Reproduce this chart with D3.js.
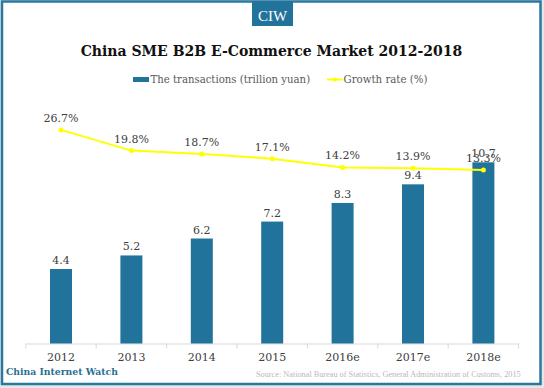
<!DOCTYPE html>
<html>
<head>
<meta charset="utf-8">
<script src="https://cdn.jsdelivr.net/npm/d3@7"></script>
<style>
  html, body { margin: 0; padding: 0; background: #e6e6e6; }
  svg { display: block; }
</style>
</head>
<body>
<div id="chart"></div>
<script>
// data
const years = ['2012', '2013', '2014', '2015', '2016e', '2017e', '2018e']
const transactions = [4.4, 5.2, 6.2, 7.2, 8.3, 9.4, 10.7]
const growth = [26.7, 19.8, 18.7, 17.1, 14.2, 13.9, 13.3]

const title = 'China SME B2B E-Commerce Market 2012-2018'
const legendBar = 'The transactions (trillion yuan)'
const legendLine = 'Growth rate (%)'
const source = 'Source: National Bureau of Statistics, General Administration of Customs, 2015'

const W = 544
const H = 388
const BLUE = '#22739c'
const YELLOW = '#ffff00'
const SERIF = '"DejaVu Serif", "Liberation Serif", serif'

// scale a text's font size so it takes the wanted width
function fitWidth (sel, width) {
  let size = parseFloat(sel.style('font-size'))
  let len = sel.node().getComputedTextLength()
  sel.style('font-size', (size * width / len).toFixed(2) + 'px')
  return sel
}

const svg = d3.select('#chart').append('svg')
  .attr('width', W)
  .attr('height', H)

// frame
svg.append('rect')
  .attr('x', 2).attr('y', 1.5)
  .attr('width', 538.5).attr('height', 382.5)
  .attr('fill', '#fff')
  .attr('stroke', '#2a78a0')
  .attr('stroke-width', 2.5)

// CIW badge
svg.append('rect')
  .attr('x', 252).attr('y', 1)
  .attr('width', 41).attr('height', 25)
  .attr('fill', BLUE)
svg.append('text')
  .attr('x', 272.5).attr('y', 20.5)
  .attr('text-anchor', 'middle')
  .style('font-family', '"Liberation Serif", serif')
  .style('font-size', '15px')
  .attr('fill', '#fff')
  .text('CIW')

// title
let t = svg.append('text')
  .attr('x', 271.5).attr('y', 56)
  .attr('text-anchor', 'middle')
  .style('font-family', SERIF)
  .style('font-weight', 'bold')
  .style('font-size', '16px')
  .attr('fill', '#111')
  .text(title)
fitWidth(t, 382)

// legend
const legend = svg.append('g').style('font-family', SERIF).attr('fill', '#595959')
legend.append('rect')
  .attr('x', 133).attr('y', 77)
  .attr('width', 16).attr('height', 5)
  .attr('fill', BLUE)
let l1 = legend.append('text')
  .attr('x', 150.5).attr('y', 83)
  .style('font-size', '11px')
  .text(legendBar)
fitWidth(l1, 160)
legend.append('line')
  .attr('x1', 327).attr('x2', 343)
  .attr('y1', 79.5).attr('y2', 79.5)
  .attr('stroke', YELLOW).attr('stroke-width', 2)
legend.append('circle')
  .attr('cx', 335).attr('cy', 79.5).attr('r', 2)
  .attr('fill', YELLOW)
let l2 = legend.append('text')
  .attr('x', 343.5).attr('y', 83)
  .style('font-size', '11px')
  .text(legendLine)
fitWidth(l2, 84)

// scales
const xs = d3.scaleBand().domain(years).range([25.8, 518.6]).padding(0)
const ys = d3.scaleLinear().domain([0, 12]).range([343.5, 140.3])
const ys2 = d3.scaleLinear().domain([0, 30]).range([210, 120])
const barW = 22
const cx = (d) => xs(d) + xs.bandwidth() / 2

// x axis
const xAxis = svg.append('g')
  .attr('transform', `translate(0, ${ys(0)})`)
  .call(d3.axisBottom(xs).tickSize(0).tickPadding(10))
xAxis.select('.domain').attr('stroke', '#d9d9d9')
xAxis.selectAll('.tick text')
  .style('font-family', SERIF)
  .style('font-size', '11px')
  .attr('fill', '#404040')
// category boundary ticks
xAxis.selectAll('.bound')
  .data(d3.range(years.length + 1))
  .enter().append('line')
  .attr('x1', (i) => xs.range()[0] + i * xs.step())
  .attr('x2', (i) => xs.range()[0] + i * xs.step())
  .attr('y1', 0).attr('y2', 5)
  .attr('stroke', '#d9d9d9')

// bars
const bars = svg.append('g')
bars.selectAll('rect')
  .data(years)
  .enter().append('rect')
  .attr('x', (d) => cx(d) - barW / 2)
  .attr('y', (d, i) => ys(transactions[i]))
  .attr('width', barW)
  .attr('height', (d, i) => ys(0) - ys(transactions[i]))
  .attr('fill', BLUE)
bars.selectAll('text')
  .data(years)
  .enter().append('text')
  .attr('x', (d) => cx(d))
  .attr('y', (d, i) => ys(transactions[i]) - 5)
  .attr('text-anchor', 'middle')
  .style('font-family', SERIF)
  .style('font-size', '11px')
  .attr('fill', '#404040')
  .text((d, i) => transactions[i].toFixed(1))

// growth line
const line = d3.line()
  .x((d) => cx(d))
  .y((d, i) => ys2(growth[i]))
const lg = svg.append('g')
lg.append('path')
  .attr('d', line(years))
  .attr('fill', 'none')
  .attr('stroke', YELLOW)
  .attr('stroke-width', 2)
  .attr('stroke-linejoin', 'round')
lg.selectAll('circle')
  .data(years)
  .enter().append('circle')
  .attr('cx', (d) => cx(d))
  .attr('cy', (d, i) => ys2(growth[i]))
  .attr('r', 2.5)
  .attr('fill', YELLOW)
lg.selectAll('text')
  .data(years)
  .enter().append('text')
  .attr('x', (d) => cx(d))
  .attr('y', (d, i) => ys2(growth[i]) - 8)
  .attr('text-anchor', 'middle')
  .style('font-family', SERIF)
  .style('font-size', '11px')
  .attr('fill', '#404040')
  .text((d, i) => growth[i].toFixed(1) + '%')

// footer
let brand = svg.append('text')
  .attr('x', 6).attr('y', 375)
  .style('font-family', SERIF)
  .style('font-weight', 'bold')
  .style('font-size', '12px')
  .attr('fill', '#2a6f94')
  .text('China Internet Watch')
fitWidth(brand, 112)

let src = svg.append('text')
  .attr('x', 256).attr('y', 377)
  .style('font-family', '"Liberation Serif", serif')
  .style('font-size', '8px')
  .attr('fill', '#b8b8b8')
  .text(source)
fitWidth(src, 265)
</script>
</body>
</html>
